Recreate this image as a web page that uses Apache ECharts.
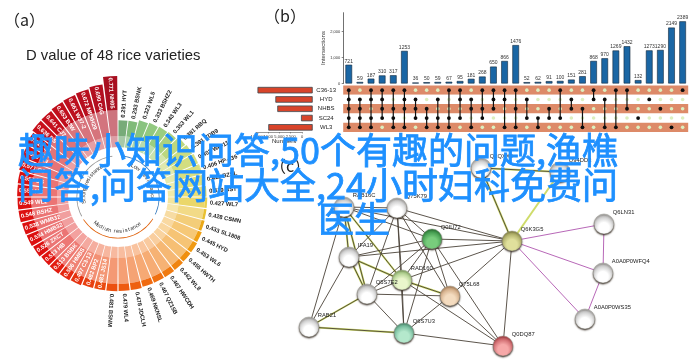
<!DOCTYPE html>
<html>
<head>
<meta charset="utf-8">
<style>
  html, body { margin: 0; padding: 0; background: #fff; }
  #chart { width: 700px; height: 364px; }
</style>
</head>
<body>
<div id="chart"></div>
<script src="https://cdn.jsdelivr.net/npm/echarts@6/dist/echarts.min.js"></script>
<script>
// (a) D values, clockwise from the top
var varieties = ['HYT','BSNK','WL5','BSHZ2','WL3','WL1','RBQ','ZDB9','WP-11','HP-136','BZSL','BST','WL7','CSMN','SL1808','HYD','WL6','HWTH','WL8','HWCDH','QZ15B','NKNSL','JDCLH','WL4','BSNM','JS14','BP2','C3-13','HMBS','BSBK','HB','ZXCT','HMB32','WMB32','BSHZ','WL2','HB','SG','CJ','HN','SJ','BS','CJ7','B3W','W37-2','MPXH29','C4G','NH05'];
var dValues = [0.291,0.293,0.323,0.333,0.343,0.353,0.381,0.391,0.402,0.406,0.411,0.419,0.427,0.428,0.433,0.445,0.453,0.455,0.462,0.467,0.467,0.469,0.478,0.479,0.481,0.481,0.482,0.497,0.506,0.513,0.513,0.526,0.534,0.538,0.548,0.549,0.553,0.557,0.571,0.59,0.612,0.636,0.641,0.653,0.661,0.672,0.69,0.771];
var sliceColors = ['#5f9c60','#6aaf62','#74b968','#7fc06a','#8ac56a','#9eca68','#b2d068','#c2d66a','#cbd86a','#d4d968','#dcdb64','#e3d85e','#e8d050','#e8c030','#eaa818','#f0a014','#f09a12','#f09010','#f08410','#f07a10','#f07010','#f06a10','#ee6010','#ee5a10','#ec5010','#ea4a10','#e84010','#e63210','#e42810','#e21c10','#e01410','#dc1010','#dc1010','#dc1010','#dc1010','#dc1010','#dc1010','#dc1010','#d80f12','#d40f14','#cc0f18','#c80f1a','#c40f1c','#c00f1c','#bc0f1e','#b80f1e','#b40f20','#a80f20'];
var baseLimit = 0.12, midLimit = 0.40;

// (b) intersections
var setNames = ['C36-13','HYD','NHBS','SC24','WL3'];
var setSizes = [12268,8300,7870,2600,9870];
var intersections = [721,59,187,310,317,1253,36,50,59,67,95,181,268,650,866,1476,52,62,91,100,151,281,868,970,1269,1432,132,1273,1290,2149,2389];
var memberRows = [[0,1,2,3,4],[1,2,3,4],[0,1,3,4],[0,1,2,3],[0,2,3,4],[0,1,2,4],[1,2,3],[2,3,4],[1,3,4],[0,3,4],[0,1,3],[1,2,4],[0,2,3],[0,1,2],[0,1,4],[0,2,4],[1,3],[3,4],[2,3],[0,3],[1,2],[2,4],[0,1],[1,4],[0,4],[0,2],[3],[1],[2],[4],[0]];
var intersectionTicks = [0,1000,2000];

// (c) protein network, positions are in picture units
var proteins = ['RAB16C','Q75K79','Q0IU72','IFA19','RAD160','Q5S7E2','Q75L68','RAB21','Q6S7U3','Q0DQ87','Q6K3G5','Q6LN31','A0A0P0WFQ4','A0A0P0WS35','Q2QXX9','Q94DD3'];
var proteinX = [344,397,432,349,402,367,450,309,404,503,512,604,603,585,481,560];
var proteinY = [207,208,239,257,280,294,296,327,333,346,241,224,273,319,168,172];
var proteinFill = [['#ffffff','#a8a8a8'],['#ffffff','#a8a8a8'],['#78cc7c','#1f7a30'],['#ffffff','#a8a8a8'],['#eaf6cc','#86b464'],['#ffffff','#a8a8a8'],['#f4dcc0','#bc8c60'],['#ffffff','#a8a8a8'],['#b4e8cc','#4a9c7c'],['#f6a8a8','#b03840'],['#e0e09c','#8c8c44'],['#ffffff','#a8a8a8'],['#ffffff','#a8a8a8'],['#ffffff','#a8a8a8'],['#ffffff','#a8a8a8'],['#ffffff','#a8a8a8']];
var yellowEdges = [[0,3],[0,4],[0,5],[3,5],[3,4],[5,7],[7,8],[4,6],[14,10],[14,15],[15,10]];
var darkEdges = [[0,1],[0,3],[0,4],[0,5],[0,7],[0,2],[1,2],[1,3],[1,5],[1,4],[1,10],[1,6],[1,8],[2,3],[2,4],[2,5],[2,10],[2,6],[2,9],[2,8],[3,4],[3,5],[3,7],[3,10],[4,5],[4,6],[4,8],[4,10],[4,9],[5,6],[5,8],[5,7],[6,8],[6,10],[6,9],[7,8],[8,9],[10,9],[14,10],[14,15],[0,10]];
var purpleEdges = [[10,11],[10,12],[10,13],[11,12],[12,13]];

var chart = echarts.init(document.getElementById('chart'));
var textFont = '"Liberation Sans", Arial, sans-serif';

function stackPart(name, values, greenAlpha, redAlpha) {
    return {
        name: name, type: 'bar', coordinateSystem: 'polar', polarIndex: 0, stack: 'd',
        barCategoryGap: '10%', silent: true,
        itemStyle: {
            color: function (params) {
                var i = params.dataIndex;
                return echarts.color.modifyAlpha(sliceColors[i], i < 13 ? greenAlpha : redAlpha);
            }
        },
        data: values
    };
}
function arcLine(from, to, color) {
    var pts = [];
    for (var a = from; a <= to; a += 5) pts.push([-0.1, a]);
    return {
        type: 'line', coordinateSystem: 'polar', polarIndex: 1, showSymbol: false, silent: true,
        lineStyle: { color: color, width: 1.5 }, data: pts
    };
}

var barLabelData = dValues.map(function (v, i) {
    return [i >= 25 ? v - 0.015 : v + 0.03, (i + 0.5) * 7.5];
});

// small letters bent along the inner ring
var ringWords = [
    { text: 'Low resistance', start: 25, step: 5.2, r: -0.17, rot: function (a) { return -a; } },
    { text: 'Medium resistance', start: 220, step: -4.9, r: -0.17, rot: function (a) { return 180 - a; } },
    { text: 'Strong resistance', start: 262, step: 4.3, r: -0.17, rot: function (a) { return 360 - a; } }
];
var ringChars = [];
ringWords.forEach(function (w) {
    w.text.split('').forEach(function (c, k) {
        var a = w.start + k * w.step;
        ringChars.push({ c: c, a: a, rot: w.rot(a) });
    });
});

var dots = [], blanks = [], columns = [];
memberRows.forEach(function (rows, col) {
    setNames.forEach(function (n, r) {
        (rows.indexOf(r) >= 0 ? dots : blanks).push([col, r]);
    });
    columns.push([col, Math.min.apply(null, rows), Math.max.apply(null, rows)]);
});
var colNames = intersections.map(function (v, i) { return 'c' + i; });

var nodes = proteins.map(function (name, i) {
    return {
        name: name, value: [proteinX[i], proteinY[i]],
        itemStyle: {
            color: {
                type: 'radial', x: 0.5, y: 0.68, r: 0.72,
                colorStops: [{ offset: 0, color: proteinFill[i][0] }, { offset: 0.35, color: proteinFill[i][0] }, { offset: 1, color: proteinFill[i][1] }]
            },
            borderColor: '#8a8a80', borderWidth: 0.4,
            shadowColor: 'rgba(50,40,30,0.85)', shadowBlur: 1.5, shadowOffsetY: 1.2
        }
    };
});
function edgeList(list, color, width) {
    return list.map(function (e) {
        return { source: proteins[e[0]], target: proteins[e[1]], lineStyle: { color: color, width: width, opacity: 1 } };
    });
}
var links = edgeList(yellowEdges, '#cfdc6a', 2).concat(edgeList(darkEdges, '#4a4238', 0.9), edgeList(purpleEdges, '#b868b8', 1));

function headText(text, left, top, size, extra) {
    return {
        text: text, left: left, top: top, z: 20, padding: 0,
        textStyle: Object.assign({ color: '#222', fontSize: size, fontWeight: 'normal', fontFamily: textFont }, extra || {})
    };
}
var overlayStyle = { color: '#1e90ff', fontFamily: '"Noto Sans CJK SC"', fontWeight: 'normal', textBorderColor: '#1e90ff', textBorderWidth: 0.8 };

var option = {
    animation: false,
    backgroundColor: '#fff',
    title: [
        headText('（a）', 4, 12, 16, { fontFamily: '"Noto Sans CJK SC"' }),
        headText('D value of 48 rice varieties', 26, 48, 14.8),
        headText('（b）', 264, 8, 16, { fontFamily: '"Noto Sans CJK SC"' }),
        headText('（c）', 270, 158, 16, { fontFamily: '"Noto Sans CJK SC"' }),
        headText('Numbers', 272, 138, 6),
        headText('趣味小知识问答,50个有趣的问题,渔樵', 18, 132, 36, overlayStyle),
        headText('问答,问答网站大全,24小时妇科免费问', 18, 167, 36, overlayStyle),
        headText('医生', 318, 201, 36, overlayStyle)
    ],
    polar: [
        { center: [118, 197], radius: [40.8, 142] },
        { center: [118, 197], radius: [40.8, 142] }
    ],
    angleAxis: [
        { polarIndex: 0, type: 'category', data: varieties, startAngle: 90, clockwise: true, show: false },
        { polarIndex: 1, type: 'value', min: 0, max: 360, startAngle: 90, clockwise: true, show: false }
    ],
    radiusAxis: [
        { polarIndex: 0, type: 'value', min: -0.1, max: 1, show: false },
        { polarIndex: 1, type: 'value', min: -0.1, max: 1, show: false }
    ],
    grid: [
        { left: 343.2, top: 12.7, width: 345, height: 70.8 },
        { left: 343.2, top: 85.5, width: 345, height: 46.5 },
        { left: 255.1, top: 85.5, width: 57.6, height: 46.5 },
        { left: 256.7, top: 100, width: 45.3, height: 32 },
        { left: 0, top: 0, width: 700, height: 364 }
    ],
    xAxis: [
        { gridIndex: 0, type: 'category', data: colNames, show: false },
        { gridIndex: 1, type: 'category', data: colNames, show: false },
        { gridIndex: 2, type: 'value', inverse: true, min: 0, max: 12800, show: false },
        {
            gridIndex: 3, type: 'value', inverse: true, min: 0, max: 10000, interval: 2500,
            splitLine: { show: false },
            axisLine: { show: true, lineStyle: { color: '#555', width: 0.6 } },
            axisTick: { show: true, length: 1.5, lineStyle: { color: '#555', width: 0.5 } },
            axisLabel: { fontSize: 4, margin: 3, color: '#333', fontFamily: textFont, hideOverlap: false }
        },
        { gridIndex: 4, type: 'value', min: 0, max: 700, show: false }
    ],
    yAxis: [
        {
            gridIndex: 0, type: 'value', min: 0, max: 2720,
            name: 'Intersections', nameLocation: 'middle', nameGap: 15, nameRotate: 90,
            nameTextStyle: { fontSize: 6, color: '#333', fontFamily: textFont },
            splitLine: { show: false },
            axisLine: { show: true, lineStyle: { color: '#333', width: 0.7 } },
            axisTick: { show: true, length: 1.5, customValues: intersectionTicks, lineStyle: { color: '#333', width: 0.6 } },
            axisLabel: { fontSize: 4, margin: 3, color: '#333', fontFamily: textFont, customValues: intersectionTicks }
        },
        {
            gridIndex: 1, type: 'category', data: setNames, inverse: true,
            axisLine: { show: false }, axisTick: { show: false },
            splitLine: { show: false },
            splitArea: { show: true, areaStyle: { color: ['#dd8a68', '#ffffff'], opacity: 1 } },
            axisLabel: { fontSize: 6, margin: 17, align: 'center', color: '#222', fontFamily: textFont }
        },
        { gridIndex: 2, type: 'category', data: setNames, inverse: true, show: false },
        { gridIndex: 3, type: 'value', show: false },
        { gridIndex: 4, type: 'value', min: 0, max: 364, inverse: true, show: false }
    ],
    series: [
        stackPart('base', dValues.map(function (v) { return Math.min(v, baseLimit); }), 0.55, 0.4),
        stackPart('mid', dValues.map(function (v) { return Math.min(v, midLimit) - baseLimit; }), 0.85, 0.58),
        stackPart('tip', dValues.map(function (v) { return Math.max(v - midLimit, 0); }), 1, 1),
        arcLine(5, 118, '#3f80c0'),
        arcLine(122, 238, '#e0640f'),
        arcLine(242, 355, '#9a9a9a'),
        {
            type: 'custom', coordinateSystem: 'polar', polarIndex: 1, silent: true, z: 5,
            data: barLabelData,
            renderItem: function (params, api) {
                var i = params.dataIndex, angle = api.value(1);
                var p = api.coord([api.value(0), angle]);
                var deg = i >= 25 ? 270 - angle : 90 - angle;
                return {
                    type: 'text', x: p[0], y: p[1], rotation: deg * Math.PI / 180,
                    style: {
                        text: dValues[i].toFixed(3) + ' ' + varieties[i],
                        fill: i >= 25 ? '#fff' : '#222',
                        fontSize: 5.8, fontWeight: 'bold', fontFamily: textFont,
                        align: 'left', verticalAlign: 'middle'
                    }
                };
            }
        },
        {
            type: 'custom', coordinateSystem: 'polar', polarIndex: 1, silent: true, z: 5,
            data: ringChars.map(function (c) { return [-0.17, c.a]; }),
            renderItem: function (params, api) {
                var c = ringChars[params.dataIndex];
                var p = api.coord([api.value(0), api.value(1)]);
                return {
                    type: 'text', x: p[0], y: p[1], rotation: c.rot * Math.PI / 180,
                    style: { text: c.c, fill: '#333', fontSize: 5.5, fontFamily: textFont, align: 'center', verticalAlign: 'middle' }
                };
            }
        },
        {
            type: 'bar', xAxisIndex: 0, yAxisIndex: 0, barWidth: '60%', silent: true,
            itemStyle: { color: '#1a66a4', borderColor: '#12283c', borderWidth: 0.6 },
            label: { show: true, position: 'top', distance: 1, fontSize: 5, color: '#333', fontFamily: textFont },
            data: intersections
        },
        {
            type: 'custom', xAxisIndex: 1, yAxisIndex: 1, silent: true, z: 3,
            data: columns,
            renderItem: function (params, api) {
                var a = api.coord([api.value(0), api.value(1)]);
                var b = api.coord([api.value(0), api.value(2)]);
                return {
                    type: 'line', shape: { x1: a[0], y1: a[1], x2: b[0], y2: b[1] },
                    style: { stroke: '#111', lineWidth: 1.2 }
                };
            }
        },
        {
            type: 'scatter', xAxisIndex: 1, yAxisIndex: 1, symbolSize: 3.6, silent: true, z: 2,
            itemStyle: { color: '#dcefc0', opacity: 1 }, data: blanks
        },
        {
            type: 'scatter', xAxisIndex: 1, yAxisIndex: 1, symbolSize: 3.8, silent: true, z: 4,
            itemStyle: { color: '#0c0c0c', opacity: 1 }, data: dots
        },
        {
            type: 'bar', xAxisIndex: 2, yAxisIndex: 2, barWidth: 6.5, silent: true,
            itemStyle: { color: '#d8442a', borderColor: '#3c4a50', borderWidth: 0.8 },
            data: setSizes
        },
        {
            type: 'graph', coordinateSystem: 'cartesian2d', xAxisIndex: 4, yAxisIndex: 4, layout: 'none',
            symbol: 'circle', symbolSize: 20, silent: true, z: 3,
            label: { show: true, position: [19, -4], fontSize: 5.8, color: '#222', fontFamily: textFont },
            data: nodes, links: links
        }
    ]
};
chart.setOption(option);
</script>
</body>
</html>
